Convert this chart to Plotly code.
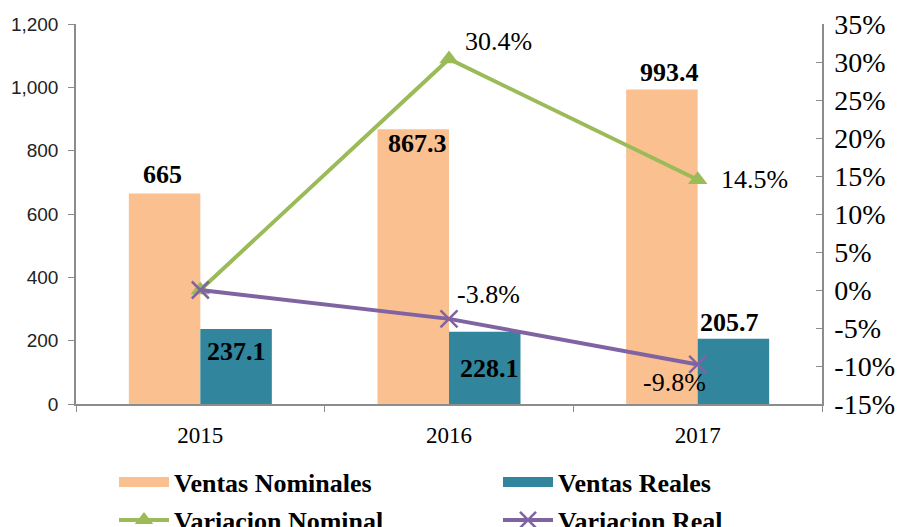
import plotly.graph_objects as go

years = ["2015", "2016", "2017"]
ventas_nominales = [665.0, 867.3, 993.4]
ventas_reales = [237.1, 228.1, 205.7]
variacion_nominal = [0.0, 30.4, 14.5]   # percent
variacion_real = [0.0, -3.8, -9.8]      # percent

left_ticks = [0, 200, 400, 600, 800, 1000, 1200]
right_ticks = [-15, -10, -5, 0, 5, 10, 15, 20, 25, 30, 35]
right_ticktext = ["-15%", "-10%", "-5%", "0%", "5%", "10%", "15%", "20%", "25%", "30%", "35%"]

# label styling (pixel offsets only)
nom_lbl_off = [(-2, 19), (4, -14), (8, 17)]
real_lbl_off = [(0, -23), (5, -37), (-4, 16)]
varnom_lbl_off = [None, (49, 17), (57, 0)]
varreal_lbl_off = [None, (39, 24), (-23, -18)]

C_NOM = "#FAC090"
C_REAL = "#31859C"
C_GREEN = "#9BBB59"
C_PURPLE = "#8064A2"
C_AXIS = "#8C8C8C"
SERIF = "Liberation Serif, Times New Roman, serif"
SANS = "Liberation Sans, Arial, sans-serif"

fig = go.Figure()
fig.add_trace(go.Bar(x=years, y=ventas_nominales, name="Ventas Nominales",
                     marker=dict(color=C_NOM, line=dict(width=0)), showlegend=False))
fig.add_trace(go.Bar(x=years, y=ventas_reales, name="Ventas Reales",
                     marker=dict(color=C_REAL, line=dict(width=0)), showlegend=False))
fig.add_trace(go.Scatter(x=years, y=variacion_nominal, name="Variacion Nominal", yaxis="y2",
                         mode="lines+markers", line=dict(color=C_GREEN, width=4),
                         marker=dict(symbol="triangle-up", size=17, color=C_GREEN),
                         legend="legend3"))
fig.add_trace(go.Scatter(x=years, y=variacion_real, name="Variacion Real", yaxis="y2",
                         mode="lines+markers", line=dict(color=C_PURPLE, width=4),
                         marker=dict(symbol="x-thin-open", size=17,
                                     line=dict(color=C_PURPLE, width=2.5)),
                         legend="legend4"))
# legend keys for the bar series (wide patches like the original)
fig.add_trace(go.Scatter(x=[None], y=[None], mode="lines", name="Ventas Nominales",
                         line=dict(color=C_NOM, width=14), legend="legend",
                         hoverinfo="skip"))
fig.add_trace(go.Scatter(x=[None], y=[None], mode="lines", name="Ventas Reales",
                         line=dict(color=C_REAL, width=14), legend="legend2",
                         hoverinfo="skip"))

half = 35.75
ann = []
for i, yr in enumerate(years):
    dx, dy = nom_lbl_off[i]
    ann.append(dict(x=i, y=ventas_nominales[i], xref="x", yref="y",
                    text=f"{ventas_nominales[i]:g}", showarrow=False,
                    xshift=-half + dx, yshift=dy,
                    font=dict(family=SERIF, size=26, color="black", weight="bold")))
    dx, dy = real_lbl_off[i]
    ann.append(dict(x=i, y=ventas_reales[i], xref="x", yref="y",
                    text=f"{ventas_reales[i]:g}", showarrow=False,
                    xshift=half + dx, yshift=dy,
                    font=dict(family=SERIF, size=26, color="black", weight="bold")))
    if varnom_lbl_off[i] is not None:
        dx, dy = varnom_lbl_off[i]
        ann.append(dict(x=i, y=variacion_nominal[i], xref="x", yref="y2",
                        text=f"{variacion_nominal[i]:.1f}%", showarrow=False,
                        xshift=dx, yshift=dy,
                        font=dict(family=SERIF, size=26, color="black")))
    if varreal_lbl_off[i] is not None:
        dx, dy = varreal_lbl_off[i]
        ann.append(dict(x=i, y=variacion_real[i], xref="x", yref="y2",
                        text=f"{variacion_real[i]:.1f}%", showarrow=False,
                        xshift=dx, yshift=dy,
                        font=dict(family=SERIF, size=26, color="black")))

legend_font = dict(family=SERIF, size=26, color="black", weight="bold")


def leg(xpx, ypx):
    return dict(orientation="h", xref="container", yref="container",
                x=xpx / 903, y=1 - ypx / 527, xanchor="left", yanchor="middle",
                itemwidth=50, font=legend_font, bgcolor="rgba(0,0,0,0)")


fig.update_layout(
    width=903, height=527,
    margin=dict(l=76, r=81, t=24, b=123, autoexpand=False),
    paper_bgcolor="white", plot_bgcolor="white",
    barmode="group", bargap=0.425, bargroupgap=0,
    xaxis=dict(type="category", range=[-0.5, 2.5], showgrid=False, showline=True,
               linecolor=C_AXIS, linewidth=1.5,
               ticks="outside", tickson="boundaries", ticklen=6, tickcolor=C_AXIS,
               tickfont=dict(family=SERIF, size=23, color="black"),
               ticklabelstandoff=10),
    yaxis=dict(range=[0, 1200], tickvals=left_ticks, tickformat=",", showgrid=False,
               showline=True, linecolor=C_AXIS, linewidth=1.5, ticks="outside", ticklen=6,
               tickcolor=C_AXIS, zeroline=False,
               tickfont=dict(family=SANS, size=19, color="#222222"),
               ticklabelstandoff=6),
    yaxis2=dict(range=[-15, 35], tickvals=right_ticks, ticktext=right_ticktext,
                overlaying="y", side="right", showgrid=False, zeroline=False,
                showline=True, linecolor=C_AXIS, linewidth=1.5, ticks="inside", ticklen=6,
                tickcolor=C_AXIS,
                tickfont=dict(family=SERIF, size=28, color="black"),
                ticklabelstandoff=5),
    legend=leg(114, 482),
    legend2=leg(498, 482),
    legend3=leg(114, 520),
    legend4=leg(498, 520),
    annotations=ann,
)

fig.write_html("out.html", config={"displayModeBar": False},
               post_script="document.body.style.margin='0';")
